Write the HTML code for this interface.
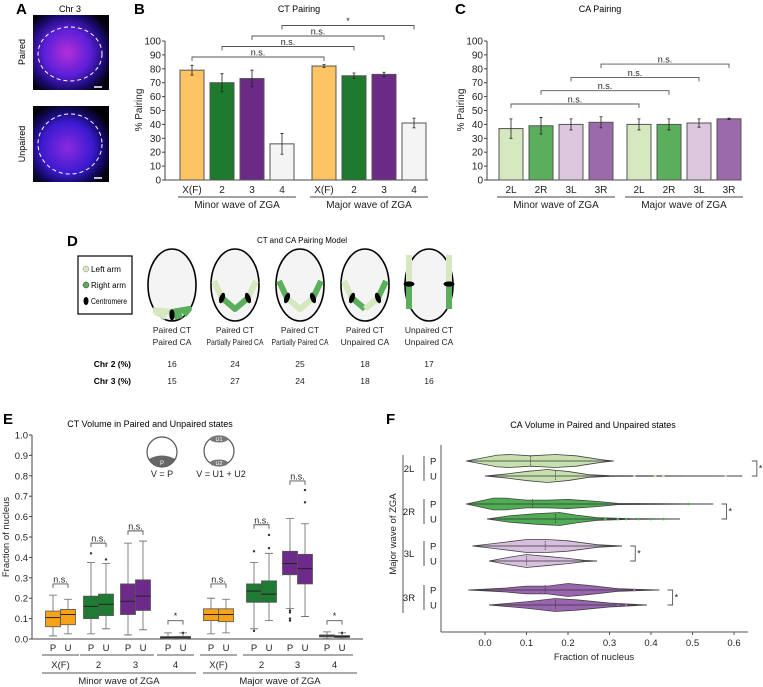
<!DOCTYPE html>
<html><head><meta charset="utf-8"><style>
html,body{margin:0;padding:0;background:#fff}
svg{display:block;font-family:"Liberation Sans",Arial,sans-serif}
</style></head><body>
<svg id="fig" width="763" height="687" viewBox="0 0 763 687" xmlns="http://www.w3.org/2000/svg">
<defs>
<radialGradient id="gA1" cx="0.45" cy="0.5" r="0.62"><stop offset="0" stop-color="#b52fd8"/><stop offset="0.5" stop-color="#5a1fd8"/><stop offset="0.8" stop-color="#1a0a70"/><stop offset="1" stop-color="#05020f"/></radialGradient>
<radialGradient id="gA2" cx="0.45" cy="0.55" r="0.62"><stop offset="0" stop-color="#8a2ae0"/><stop offset="0.55" stop-color="#3a1ad0"/><stop offset="0.8" stop-color="#120860"/><stop offset="1" stop-color="#020108"/></radialGradient>
</defs>
<g>
<text x="16" y="14" font-size="15" font-weight="bold">A</text>
<text x="70" y="12" font-size="9" text-anchor="middle">Chr 3</text>
<rect x="33" y="15" width="76" height="75" fill="url(#gA1)"/>
<ellipse cx="70" cy="54" rx="32" ry="27" fill="none" stroke="#fff" stroke-dasharray="4,3" stroke-width="1"/>
<line x1="94" y1="87" x2="102" y2="87" stroke="#fff" stroke-width="1.5"/>
<rect x="33" y="106" width="76" height="76" fill="url(#gA2)"/>
<ellipse cx="70" cy="144" rx="32" ry="30" fill="none" stroke="#fff" stroke-dasharray="4,3" stroke-width="1"/>
<line x1="94" y1="178" x2="102" y2="178" stroke="#fff" stroke-width="1.5"/>
<text transform="translate(25,52) rotate(-90)" font-size="9" text-anchor="middle">Paired</text>
<text transform="translate(25,144) rotate(-90)" font-size="9" text-anchor="middle">Unpaired</text>
</g>
<text x="134" y="14" font-size="15" font-weight="bold">B</text>
<text x="299" y="12" font-size="9" text-anchor="middle">CT Pairing</text>
<text x="455" y="14" font-size="15" font-weight="bold">C</text>
<text x="600" y="12" font-size="9" text-anchor="middle">CA Pairing</text>
<text x="67" y="246" font-size="15" font-weight="bold">D</text>
<text x="302" y="243" font-size="8" text-anchor="middle">CT and CA Pairing Model</text>
<text x="3" y="424" font-size="15" font-weight="bold">E</text>
<text x="150" y="427" font-size="9" text-anchor="middle">CT Volume in Paired and Unpaired states</text>
<text x="386" y="424" font-size="15" font-weight="bold">F</text>
<text x="593" y="428" font-size="9" text-anchor="middle">CA Volume in Paired and Unpaired states</text>
<g>
<rect x="78" y="256" width="54" height="58" fill="#fff" stroke="#000" stroke-width="1.2"/>
<circle cx="86" cy="269" r="3" fill="#d5e8c0" stroke="#888" stroke-width="0.5"/>
<text x="91" y="272" font-size="8" textLength="30" lengthAdjust="spacingAndGlyphs">Left arm</text>
<circle cx="86" cy="285" r="3" fill="#5aae5c" stroke="#333" stroke-width="0.5"/>
<text x="91" y="288" font-size="8" textLength="35" lengthAdjust="spacingAndGlyphs">Right arm</text>
<ellipse cx="86" cy="301" rx="2.5" ry="4" fill="#000"/>
<text x="91" y="304" font-size="8" textLength="36" lengthAdjust="spacingAndGlyphs">Centromere</text>
</g>
<g id="gB"></g><g id="gC"></g><g id="gD"></g><g id="gE"></g><g id="gF"></g>
</svg>
<script>
const NS='http://www.w3.org/2000/svg';
function mk(tag,attrs,parent,txt){const e=document.createElementNS(NS,tag);for(const k in attrs)e.setAttribute(k,attrs[k]);if(txt!==undefined)e.textContent=txt;parent.appendChild(e);return e;}

const bCategories=['X(F)','2','3','4'];
const bGroups=['Minor wave of ZGA','Major wave of ZGA'];
const bMinorValues=[79,70,73,26];
const bMinorErrors=[3.5,6.5,6,7.5];
const bMajorValues=[82,75,76,41];
const bMajorErrors=[1,2,1.5,3.5];
const bTicks=[0,10,20,30,40,50,60,70,80,90,100];
const bBrackets=[[0,'n.s.'],[1,'n.s.'],[2,'n.s.'],[3,'*']];

const cCategories=['2L','2R','3L','3R'];
const cMinorValues=[37,39,40,41.5];
const cMinorErrors=[7,6,4,4];
const cMajorValues=[40,40,41,44];
const cMajorErrors=[4,4,3,0.5];

const dModels=[['Paired CT','Paired CA'],['Paired CT','Partially Paired CA'],['Paired CT','Partially Paired CA'],['Paired CT','Unpaired CA'],['Unpaired CT','Unpaired CA']];
const dChr2=[16,24,25,18,17];
const dChr3=[15,27,24,18,16];

const eCategories=['X(F)','2','3','4'];
const eMinorP=[[0.06,0.105,0.137,0.015,0.215],[0.1,0.16,0.21,0.025,0.375],[0.12,0.185,0.27,0.02,0.47],[0.002,0.007,0.012,0,0.03]];
const eMinorU=[[0.07,0.12,0.145,0.025,0.195],[0.115,0.17,0.22,0.05,0.37],[0.14,0.21,0.29,0.045,0.48],[0.003,0.008,0.013,0,0.03]];
const eMajorP=[[0.09,0.12,0.148,0.025,0.2],[0.18,0.235,0.27,0.05,0.375],[0.315,0.37,0.43,0.15,0.59],[0.01,0.015,0.02,0.002,0.035]];
const eMajorU=[[0.085,0.12,0.148,0.03,0.195],[0.18,0.22,0.285,0.09,0.42],[0.27,0.345,0.415,0.11,0.565],[0.007,0.012,0.017,0.002,0.03]];
const eMinorPOut=[[],[0.42],[],[]];
const eMinorUOut=[[],[0.39],[],[0.03]];
const eMajorPOut=[[],[0.43,0.04],[0.14,0.13,0.1,0.09],[]];
const eMajorUOut=[[],[0.445,0.51],[0.67,0.73],[0.03]];
const eMinorBrackets=[[0.27,'n.s.'],[0.47,'n.s.'],[0.53,'n.s.'],[0.09,'*']];
const eMajorBrackets=[[0.27,'n.s.'],[0.56,'n.s.'],[0.775,'n.s.'],[0.09,'*']];
const eTicks=[0,0.1,0.2,0.3,0.4,0.5,0.6,0.7,0.8,0.9,1.0];

const fArms=['2L','2R','3L','3R'];
const fProfileP=[
 [[-0.045,0],[0.03,0.9],[0.06,1],[0.11,0.8],[0.17,1],[0.22,0.8],[0.28,0.2],[0.31,0]],
 [[-0.045,0],[0.02,0.9],[0.05,0.9],[0.1,0.6],[0.15,0.6],[0.2,0.7],[0.27,0.4],[0.32,0.1],[0.55,0]],
 [[-0.03,0],[0.05,0.6],[0.1,1],[0.15,1],[0.2,0.8],[0.27,0.2],[0.33,0]],
 [[-0.04,0],[0.05,0.3],[0.1,0.6],[0.15,0.6],[0.2,1],[0.25,0.7],[0.32,0.2],[0.42,0]]];
const fProfileU=[
 [[0,0],[0.05,0.3],[0.1,0.7],[0.15,1],[0.2,0.7],[0.25,0.2],[0.3,0.05],[0.62,0]],
 [[0.005,0],[0.06,0.5],[0.12,0.8],[0.18,1],[0.22,0.6],[0.27,0.2],[0.35,0.05],[0.47,0]],
 [[0.01,0],[0.06,0.6],[0.1,1],[0.15,0.7],[0.2,0.4],[0.24,0.1],[0.27,0]],
 [[0.01,0],[0.1,0.5],[0.17,1],[0.22,0.8],[0.3,0.3],[0.39,0]]];
const fMedianP=[0.11,0.115,0.145,0.145];
const fMedianU=[0.17,0.17,0.1,0.17];
const fOutliersP=[[],[0.49],[],[0.36]];
const fOutliersU=[[0.36,0.41,0.43,0.58],[0.29,0.32,0.34,0.37,0.4,0.43],[],[0.32,0.34]];
const fBracketX=[0.643,0.57,0.35,0.44];
const fTicks=[0,0.1,0.2,0.3,0.4,0.5,0.6];

const yB=v=>180-v*1.39;
const xB=(g,i)=>(g===0?180:312)+i*30;
const xC=(g,i)=>(g===0?499:627)+i*30;
const yE=v=>639-v*204;
const xF=v=>485+v*415;
const yFRow=(i,pu)=>[461,504,546,590][i]+pu*15;

function barChart(gid,name,axisX,axisEnd,xf,cats,vals,errs,colors,groupNames){
 const g=document.getElementById(gid);
 const ax=mk('line',{x1:axisX,y1:yB(0),x2:axisX,y2:yB(100),stroke:'#444','stroke-width':1},g);
 
 
 const bx=mk('line',{x1:axisX,y1:yB(0),x2:axisEnd,y2:yB(0),stroke:'#444','stroke-width':1},g);
 
 
 bTicks.forEach(t=>{
  mk('line',{x1:axisX-3,y1:yB(t),x2:axisX,y2:yB(t),stroke:'#444'},g);
  const tl=mk('text',{x:axisX-4,y:yB(t)+3.5,'font-size':10,'text-anchor':'end',fill:'#222'},g,String(t));
  
  
 });
 const yt=mk('text',{transform:`translate(${axisX-23},110) rotate(-90)`,'font-size':10,'text-anchor':'middle',fill:'#222'},g,'% Pairing');
 
 
 [0,1].forEach(gi=>{
  cats.forEach((c,i)=>{
   const v=vals[gi][i],e=errs[gi][i],x=xf(gi,i);
   const r=mk('rect',{x:x,y:yB(v),width:24,height:yB(0)-yB(v),fill:colors[i],stroke:'#555','stroke-width':1},g);
   
   
   const cx=x+12;
   const eb=mk('path',{d:`M${cx},${yB(v-e)}V${yB(v+e)}M${cx-1.5},${yB(v-e)}H${cx+1.5}M${cx-1.5},${yB(v+e)}H${cx+1.5}`,stroke:'#222','stroke-width':0.8,fill:'none'},g);
   
   
   const tl=mk('text',{x:cx,y:193,'font-size':10,'text-anchor':'middle',fill:'#222'},g,c);
   
   
  });
  const x0=xf(gi,0)-2,x1=xf(gi,3)+26;
  const gl=mk('line',{x1:x0,y1:197,x2:x1,y2:197,stroke:'#444'},g);
  
  
  const gt=mk('text',{x:(x0+x1)/2,y:208,'font-size':10,'text-anchor':'middle',fill:'#222'},g,groupNames[gi]);
  
  
 });
}
function bracketH(g,name,x0,x1,y,label,down){
 const p=mk('path',{d:`M${x0},${y+down}V${y}H${x1}V${y+down}`,stroke:'#555',fill:'none','stroke-width':0.9},g);
 
 
 const t=mk('text',{x:(x0+x1)/2,y:y-1.5,'font-size':9,'text-anchor':'middle',fill:'#222'},g,label);
 
 
}

barChart('gB','ct-pairing',165,428,xB,bCategories,[bMinorValues,bMajorValues],[bMinorErrors,bMajorErrors],['#fcc462','#1e7a2c','#6a2a86','#f4f4f4'],bGroups);
barChart('gC','ca-pairing',487,740,xC,cCategories,[cMinorValues,cMajorValues],[cMinorErrors,cMajorErrors],['#d5e8c0','#5aae5c','#dcc7df','#9a6aaa'],bGroups);
(function(){
 const g=document.getElementById('gB');
 bBrackets.forEach((b,k)=>{
  const i=b[0];
  bracketH(g,'ct-bracket-'+i,xB(0,i)+12,xB(1,i)+12,57-k*10.5,b[1],4);
 });
 const gc=document.getElementById('gC');
 cCategories.forEach((c,i)=>{
  bracketH(gc,'ca-bracket-'+c,xC(0,i)+12,xC(1,i)+12,104-i*13.3,'n.s.',4);
 });
})();

(function(){
 const g=document.getElementById('gD');
 const cxs=[172,235,300,365,429],cy=285;
 const LG='#d5e8c0',DG='#5aae5c';
 dModels.forEach((m,i)=>{
  const cx=cxs[i];
  const gg=mk('g',{},g);
  
  
  mk('ellipse',{cx:cx,cy:cy,rx:24,ry:36,fill:'#f4f4f4',stroke:'#000','stroke-width':1.6},gg);
  const seg=(pts,col)=>mk('polyline',{points:pts.map(p=>(cx+p[0])+','+(cy+p[1])).join(' '),stroke:col,'stroke-width':6,fill:'none','stroke-linejoin':'round'},gg);
  const cen=(x,y,rot)=>mk('ellipse',{cx:cx+x,cy:cy+y,rx:2.6,ry:5.5,fill:'#000',transform:`rotate(${rot},${cx+x},${cy+y})`},gg);
  if(i===0){seg([[-19,25],[0,27]],LG);seg([[1,29],[0,27],[17,24],[12,30]],DG);seg([[-17,27],[-6,32]],LG);seg([[2,32],[10,30]],DG);cen(0,30,0);}
  if(i===1){seg([[-21,-4],[-13,13]],LG);seg([[-13,13],[0,24],[13,13]],DG);seg([[13,13],[21,-4]],LG);cen(-13,13,20);cen(13,13,-20);}
  if(i===2){seg([[-21,-4],[-13,13]],DG);seg([[-13,13],[0,24],[13,13]],LG);seg([[13,13],[21,-4]],DG);cen(-13,13,20);cen(13,13,-20);}
  if(i===3){seg([[-21,-4],[-13,13]],LG);seg([[-13,13],[0,24]],DG);seg([[0,24],[13,13]],LG);seg([[13,13],[21,-4]],DG);cen(-13,13,20);cen(13,13,-20);}
  if(i===4){seg([[-20,-30],[-20,-1]],LG);seg([[-20,-1],[-20,24]],DG);seg([[20,-30],[20,-1]],LG);seg([[20,-1],[20,24]],DG);cen(-20,-1,90);cen(20,-1,90);}
  m.forEach((ln,k)=>{
   const attrs={x:cx,y:333+k*12,'font-size':8.5,'text-anchor':'middle',fill:'#222'};
   if(ln.length>14){attrs.textLength=57;attrs.lengthAdjust='spacingAndGlyphs';}
   const t=mk('text',attrs,g,ln);
   
   
  });
  const a=mk('text',{x:cx,y:367,'font-size':8.5,'text-anchor':'middle',fill:'#222'},g,String(dChr2[i]));
  
  
  const b=mk('text',{x:cx,y:384,'font-size':8.5,'text-anchor':'middle',fill:'#222'},g,String(dChr3[i]));
  
  
 });
 const r1=mk('text',{x:131,y:367,'font-size':8.5,'font-weight':'bold','text-anchor':'end'},g,'Chr 2 (%)');
 
 
 const r2=mk('text',{x:131,y:384,'font-size':8.5,'font-weight':'bold','text-anchor':'end'},g,'Chr 3 (%)');
 
 
})();

(function(){
 const g=document.getElementById('gE');
 const cols=['#f7a21b','#1f7a33','#6e2a8a','#aaaaaa'];
 const ax=mk('line',{x1:32,y1:yE(0),x2:32,y2:yE(1),stroke:'#444'},g);
 
 
 const bx=mk('line',{x1:32,y1:yE(0),x2:363,y2:yE(0),stroke:'#444'},g);
 
 
 eTicks.forEach(t=>{
  mk('line',{x1:29,y1:yE(t),x2:32,y2:yE(t),stroke:'#444'},g);
  const tl=mk('text',{x:28,y:yE(t)+3.5,'font-size':9.5,'text-anchor':'end',fill:'#222'},g,t.toFixed(1));
  
  
 });
 const yt=mk('text',{transform:'translate(9,537) rotate(-90)','font-size':9.5,'text-anchor':'middle',fill:'#222'},g,'Fraction of nucleus');
 
 
 const xcen=(gi,i,pu)=>(gi===0?[53,91,128,168]:[211,254,290,327])[i]+pu*15;
 const data=[[eMinorP,eMinorU],[eMajorP,eMajorU]];
 const outs=[[eMinorPOut,eMinorUOut],[eMajorPOut,eMajorUOut]];
 const brs=[eMinorBrackets,eMajorBrackets];
 [0,1].forEach(gi=>{
  eCategories.forEach((c,i)=>{
   [0,1].forEach(pu=>{
    const s=data[gi][pu][i],cx=xcen(gi,i,pu);
    const w=mk('path',{d:`M${cx},${yE(s[3])}V${yE(s[0])}M${cx},${yE(s[2])}V${yE(s[4])}M${cx-4},${yE(s[3])}H${cx+4}M${cx-4},${yE(s[4])}H${cx+4}`,stroke:'#666','stroke-width':0.8,fill:'none'},g);
    
    
    const r=mk('rect',{x:cx-7.5,y:yE(s[2]),width:15,height:Math.max(1.5,yE(s[0])-yE(s[2])),fill:cols[i],stroke:'#555','stroke-width':0.8},g);
    
    
    const md=mk('line',{x1:cx-7.5,y1:yE(s[1]),x2:cx+7.5,y2:yE(s[1]),stroke:'#222','stroke-width':1},g);
    
    
    outs[gi][pu][i].forEach((o,k)=>{
     const d=mk('circle',{cx:cx,cy:yE(o),r:1.2,fill:'#333'},g);
     
     
    });
    const tl=mk('text',{x:cx,y:651,'font-size':9.5,'text-anchor':'middle',fill:'#222'},g,pu?'U':'P');
    
    
   });
   const b=brs[gi][i];
   bracketH(g,'ct-volume-bracket-'+(gi?'major':'minor')+'-'+c,xcen(gi,i,0),xcen(gi,i,1),yE(b[0]),b[1],4);
   const x0=xcen(gi,i,0)-11,x1=xcen(gi,i,1)+11;
   const cl=mk('line',{x1:x0,y1:655,x2:x1,y2:655,stroke:'#555'},g);
   
   
   const ct=mk('text',{x:(x0+x1)/2,y:668,'font-size':9.5,'text-anchor':'middle',fill:'#222'},g,c);
   
   
  });
  const x0=gi?203:42,x1=gi?357:196;
  const gl=mk('line',{x1:x0,y1:673,x2:x1,y2:673,stroke:'#555'},g);
  
  
  const gt=mk('text',{x:(x0+x1)/2,y:684,'font-size':9.5,'text-anchor':'middle',fill:'#222'},g,bGroups[gi]);
  
  
 });
 const ic=mk('g',{},g);
 
 
 mk('circle',{cx:162,cy:452,r:15,fill:'#fff',stroke:'#555','stroke-width':1.2},ic);
 mk('path',{d:'M149,459 Q162,452 175,459 A15,15 0 0 1 149,459Z',fill:'#666'},ic);
 mk('text',{x:162,y:465,'font-size':6,'text-anchor':'middle',fill:'#fff'},ic,'P');
 mk('text',{x:162,y:477,'font-size':9,'text-anchor':'middle',fill:'#222'},ic,'V = P');
 mk('circle',{cx:219,cy:451,r:15,fill:'#fff',stroke:'#555','stroke-width':1.2},ic);
 mk('ellipse',{cx:219,cy:439,rx:9,ry:3.5,fill:'#777'},ic);
 mk('ellipse',{cx:219,cy:463,rx:9,ry:3.5,fill:'#777'},ic);
 mk('text',{x:219,y:441,'font-size':5.5,'text-anchor':'middle',fill:'#fff'},ic,'U1');
 mk('text',{x:219,y:465,'font-size':5.5,'text-anchor':'middle',fill:'#fff'},ic,'U2');
 mk('text',{x:221,y:477,'font-size':9,'text-anchor':'middle',fill:'#222'},ic,'V = U1 + U2');
})();

(function(){
 const g=document.getElementById('gF');
 const cols=['#c6e0ae','#4fae54','#d8bfe0','#9a64b0'];
 const ax=mk('line',{x1:441,y1:632,x2:441,y2:445,stroke:'#555'},g);
 
 
 const bx=mk('line',{x1:441,y1:632,x2:748,y2:632,stroke:'#555'},g);
 
 
 fTicks.forEach(t=>{
  mk('line',{x1:xF(t),y1:632,x2:xF(t),y2:635,stroke:'#555'},g);
  const tl=mk('text',{x:xF(t),y:646,'font-size':9.5,'text-anchor':'middle',fill:'#222'},g,t.toFixed(1));
  
  
 });
 const xt=mk('text',{x:594,y:660,'font-size':9.5,'text-anchor':'middle',fill:'#222'},g,'Fraction of nucleus');
 
 
 const vl=mk('line',{x1:403,y1:455,x2:403,y2:613,stroke:'#555'},g);
 
 
 const vt=mk('text',{transform:'translate(396,534) rotate(-90)','font-size':9.5,'text-anchor':'middle',fill:'#222'},g,'Major wave of ZGA');
 
 
 const profs=[fProfileP,fProfileU],meds=[fMedianP,fMedianU],outs=[fOutliersP,fOutliersU];
 fArms.forEach((arm,i)=>{
  const yP=yFRow(i,0),yU=yFRow(i,1);
  const al=mk('text',{x:409,y:(yP+yU)/2+3.5,'font-size':9.5,'text-anchor':'middle',fill:'#222'},g,arm);
  
  
  mk('line',{x1:424,y1:yP-5,x2:424,y2:yU+5,stroke:'#555'},g);
  [0,1].forEach(pu=>{
   const y=yFRow(i,pu),pr=profs[pu][i],H=6.5;
   const top=pr.map(p=>xF(p[0])+','+(y-p[1]*H)).join(' ');
   const bot=pr.slice().reverse().map(p=>xF(p[0])+','+(y+p[1]*H)).join(' ');
   const v=mk('polygon',{points:top+' '+bot,fill:cols[i],stroke:'#444','stroke-width':0.8},g);
   
   
   const ln=mk('line',{x1:xF(pr[0][0]),y1:y,x2:xF(pr[pr.length-1][0]),y2:y,stroke:'#333','stroke-width':0.7},g);
   
   
   const md=mk('line',{x1:xF(meds[pu][i]),y1:y-5,x2:xF(meds[pu][i]),y2:y+5,stroke:'#333','stroke-width':0.7,'stroke-dasharray':'1.5,1'},g);
   
   
   outs[pu][i].forEach((o,k)=>{
    const d=mk('circle',{cx:xF(o),cy:y,r:1.3,fill:cols[i]},g);
    
    
   });
   const pl=mk('text',{x:430,y:y+3.5,'font-size':9.5,fill:'#222'},g,pu?'U':'P');
   
   
  });
  const bx0=xF(fBracketX[i]);
  const br=mk('path',{d:`M${bx0},${yP}H${bx0+5}V${yU}H${bx0}`,stroke:'#555',fill:'none','stroke-width':0.9},g);
  
  
  const st=mk('text',{x:bx0+7,y:(yP+yU)/2+3,'font-size':9,fill:'#222'},g,'*');
  
  
 });
})();
</script>
</body></html>
